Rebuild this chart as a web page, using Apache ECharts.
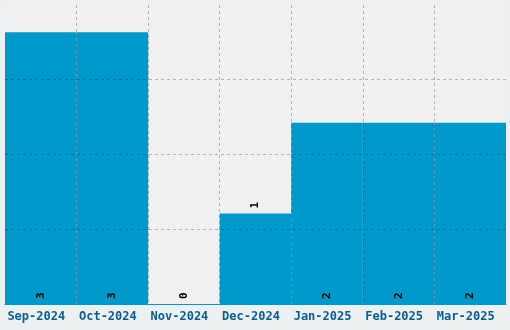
<!DOCTYPE html>
<html><head><meta charset="utf-8">
<script src="https://cdn.jsdelivr.net/npm/echarts@6/dist/echarts.min.js"></script>
<style>html,body{margin:0;padding:0;background:#ecf0f1}#c{width:510px;height:330px}</style>
</head><body><div id="c"></div>
<script>
const categories = ['Sep-2024','Oct-2024','Nov-2024','Dec-2024','Jan-2025','Feb-2025','Mar-2025'];
const values = [3, 3, 0, 1, 2, 2, 2];
const labelAbove = [false, false, false, true, false, false, false];

const chart = echarts.init(document.getElementById('c'), null, {renderer:'canvas'});
const mono = '"DejaVu Sans Mono", monospace';
chart.setOption({
  backgroundColor: '#ecf0f1',
  animation: false,
  grid: {left:5, right:4, top:5, bottom:26, show:true, backgroundColor:'#f0f0f0', borderWidth:0},
  xAxis: {
    type:'category', data: categories, z: 5,
    axisLine:{show:true, lineStyle:{color:'#0099cc', width:1}},
    axisTick:{show:false},
    axisLabel:{color:'#0a5d91', fontFamily:mono, fontWeight:'bold', fontSize:12, margin:7, interval:0, padding:[0,9,0,0]},
    splitLine:{show:true, interval:0, showMinLine:false, showMaxLine:false, lineStyle:{color:'rgba(0,0,0,0.25)', type:[3,3], width:1}}
  },
  yAxis: {
    type:'value', min:0, max:3.3, interval:0.825, z: 5,
    axisLine:{show:false}, axisTick:{show:false}, axisLabel:{show:false},
    splitLine:{show:true, showMaxLine:false, showMinLine:false, lineStyle:{color:'rgba(0,0,0,0.25)', type:[3,3], width:1}}
  },
  series: [{
    type:'bar', barCategoryGap:'0%', z:2,
    itemStyle:{color:'#0099cc'},
    data: values.map((v,i)=>({
      value:v,
      label: labelAbove[i]
        ? {show:true, position:'top', rotate:90, align:'left', verticalAlign:'middle', distance:5}
        : {show:true, position:'insideBottom', rotate:90, align:'left', verticalAlign:'middle', distance:5}
    })),
    label:{color:'#000', fontFamily:mono, fontWeight:'bold', fontSize:11}
  }]
});
</script></body></html>
